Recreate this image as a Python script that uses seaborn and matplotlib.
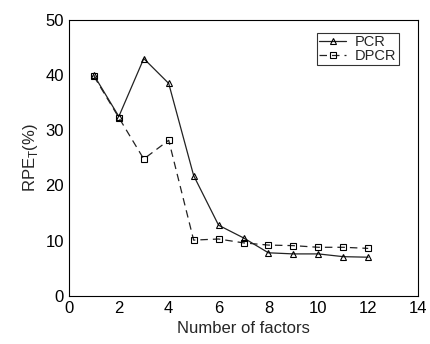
import numpy as np
import pandas as pd
import matplotlib
matplotlib.use('Agg')
import matplotlib.pyplot as plt
import seaborn as sns

factors = [1, 2, 3, 4, 5, 6, 7, 8, 9, 10, 11, 12]
pcr = [40.0, 32.5, 43.0, 38.5, 21.8, 12.8, 10.5, 7.8, 7.6, 7.6, 7.1, 7.0]
dpcr = [39.8, 32.3, 24.8, 28.2, 10.1, 10.3, 9.6, 9.2, 9.1, 8.8, 8.8, 8.6]

sns.set_style('white')
plt.rcParams['font.family'] = ['Liberation Sans', 'DejaVu Sans']

fig = plt.figure(figsize=(4.31, 3.44), dpi=100)
ax = fig.add_axes([0.160, 0.140, 0.810, 0.802])

sns.lineplot(x=factors, y=pcr, ax=ax, color='#222222', lw=0.9,
             marker='^', markersize=4.5, markerfacecolor='none',
             markeredgecolor='black', markeredgewidth=0.8, label='PCR')
sns.lineplot(x=factors, y=dpcr, ax=ax, color='#222222', lw=0.9,
             linestyle=(0, (6, 4)), marker='s', markersize=4.5,
             markerfacecolor='none', markeredgecolor='black',
             markeredgewidth=0.8, label='DPCR')

ax.set_xlim(0, 14)
ax.set_ylim(0, 50)
ax.set_xticks([0, 2, 4, 6, 8, 10, 12, 14])
ax.set_yticks([0, 10, 20, 30, 40, 50])
ax.tick_params(direction='in', length=4, labelsize=12, colors='black', width=0.7)
for s in ax.spines.values():
    s.set_color('black')
    s.set_linewidth(0.8)

ax.set_xlabel('Number of factors', fontsize=12)
ax.set_ylabel('RPE$_\\mathregular{T}$(%)', fontsize=12)

leg = ax.legend(loc='upper right', bbox_to_anchor=(0.945, 0.953), fontsize=10.5,
                frameon=True, fancybox=False, handlelength=1.9,
                borderpad=0.15, labelspacing=0.0, handletextpad=0.6,
                borderaxespad=0.0)
leg.get_frame().set_edgecolor('black')
leg.get_frame().set_linewidth(0.8)

fig.savefig('out.png', dpi=100)
